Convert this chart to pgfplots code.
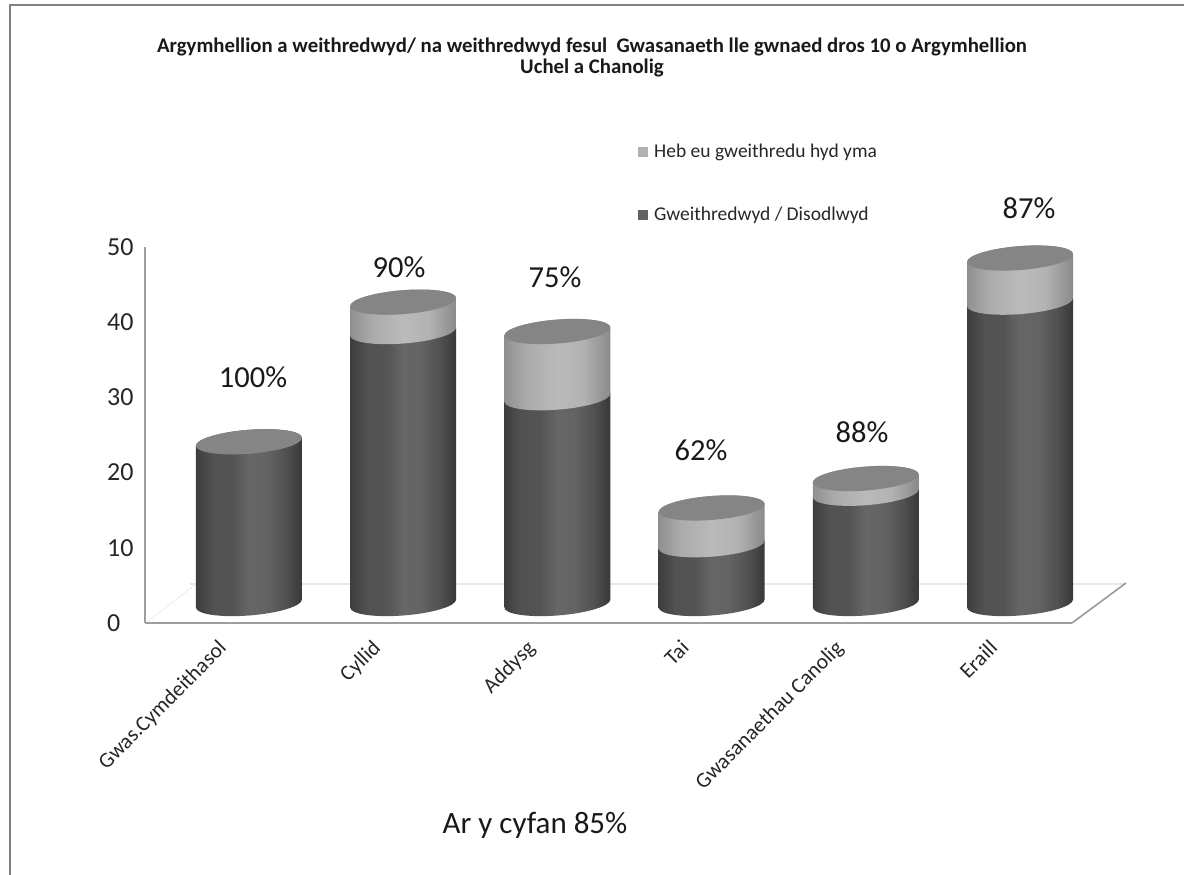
\documentclass[border=0pt]{standalone}
\usepackage{pgfplots}
\pgfplotsset{compat=1.18}
\usepackage{pgfplotstable}
\usepackage{fontspec}
\setmainfont{Carlito}
\pgfdeclarehorizontalshading{cyldark}{100bp}{
  color(0bp)=(black!76); color(25bp)=(black!76); color(33bp)=(black!68);
  color(42bp)=(black!67); color(50bp)=(black!60); color(58bp)=(black!61);
  color(67bp)=(black!68); color(75bp)=(black!78); color(100bp)=(black!78)}
\pgfdeclarehorizontalshading{cyllight}{100bp}{
  color(0bp)=(black!44); color(25bp)=(black!44); color(35bp)=(black!33);
  color(50bp)=(black!27); color(62bp)=(black!30); color(75bp)=(black!46); color(100bp)=(black!46)}
% silhouette of a tilted cylinder segment, of height \hval in data units (7.35pt per unit)
\newcommand{\cylsilhouette}{
    (-53pt,-3.975pt) .. controls (-53pt,-10.605pt) and (-29.27pt,-14.195pt) .. (0pt,-12pt)
    .. controls (29.27pt,-9.805pt) and (53pt,-2.655pt) .. (53pt,3.975pt)
    -- (53pt,{\hval*7.35pt+3.975pt})
    .. controls (53pt,{\hval*7.35pt+10.605pt}) and (29.27pt,{\hval*7.35pt+14.195pt}) .. (0pt,{\hval*7.35pt+12pt})
    .. controls (-29.27pt,{\hval*7.35pt+9.805pt}) and (-53pt,{\hval*7.35pt+2.655pt}) .. (-53pt,{\hval*7.35pt-3.975pt})
    -- cycle}
\pgfdeclareplotmark{cyldarkseg}{\path[draw=none,shading=cyldark] \cylsilhouette;}
\pgfdeclareplotmark{cyllightseg}{\path[draw=none,shading=cyllight] \cylsilhouette;}
\pgfdeclareplotmark{cylcap}{%
  \path[draw=none,fill=black!48]
    (-53pt,-3.975pt) .. controls (-53pt,-10.605pt) and (-29.27pt,-14.195pt) .. (0pt,-12pt)
    .. controls (29.27pt,-9.805pt) and (53pt,-2.655pt) .. (53pt,3.975pt)
    .. controls (53pt,10.605pt) and (29.27pt,14.195pt) .. (0pt,12pt)
    .. controls (-29.27pt,9.805pt) and (-53pt,2.655pt) .. (-53pt,-3.975pt) -- cycle;}
\pgfplotstableread{
x done rest total
0 22 0 22
1 37 4 41
2 28 9 37
3 8 5 13
4 15 2 17
5 41 6 47
}\datatable
\begin{document}
\begin{tikzpicture}[x=1pt,y=1pt]
\useasboundingbox (0,0) rectangle (1184,875);
\begin{scope}[shift={(0,875)},y=-1pt]
  % frame
  \draw[black!50,line width=1.8pt] (10,875) -- (10,5) -- (1184,5);
  % floor
  \draw[black!9,line width=1.2pt] (190,584) -- (1126,584);
  \draw[black!20,densely dotted,line width=0.6pt] (147,622) -- (196,584);
  \draw[black!40,line width=1.6pt] (1072,623) -- (1126,583);
\end{scope}
\begin{axis}[
  at={(145pt,252pt)},anchor=south west,scale only axis,width=927pt,height=376pt,
  xmin=-0.674,xmax=5.337,ymin=0,ymax=50,
  axis x line=bottom,axis y line=left,
  axis line style={-,black!38,line width=1.8pt},
  xtick={0,1,2,3,4,5},
  xticklabels={Gwas.Cymdeithasol,Cyllid,Addysg,Tai,Gwasanaethau Canolig,Eraill},
  ytick={0,10,20,30,40,50},
  tick style={draw=none},major tick length=0pt,
  /pgf/number format/assume math mode=true,
  xticklabel style={font=\fontsize{21.5}{24}\selectfont,color=black!85,rotate=45,anchor=north east,xshift=-33.7pt,yshift=11.6pt,inner sep=0pt},
  yticklabel style={font=\fontsize{26}{28}\selectfont,color=black!85,anchor=west,xshift=-38pt,inner sep=0pt},
]
\end{axis}
\begin{axis}[
  at={(145pt,252pt)},anchor=south west,scale only axis,width=927pt,height=376pt,
  xmin=-0.674,xmax=5.337,ymin=-2.653,ymax=48.503,
  hide axis,clip=false,
  scatter/@pre marker code/.code={},scatter/@post marker code/.code={},
]
\addplot[ybar,bar width=90pt,bar shift=0pt,draw=none,shading=cyldark] table[x=x,y=done]{\datatable};
\addplot[scatter,only marks,mark=cyldarkseg,
  visualization depends on={\thisrow{done}\as\hval}] table[x=x,y expr=0]{\datatable};
\addplot[scatter,only marks,mark=cyllightseg,skip coords between index={0}{1},
  visualization depends on={\thisrow{rest}\as\hval}] table[x=x,y=done]{\datatable};
\addplot[scatter,only marks,mark=cylcap] table[x=x,y=total]{\datatable};
\end{axis}
\begin{scope}[shift={(0,875)},y=-1pt]
  % title
  \node[font=\bfseries\fontsize{20.8}{24}\selectfont,color=black!90,inner sep=0pt] at (592,47) {Argymhellion a weithredwyd/ na weithredwyd fesul\ \ Gwasanaeth lle gwnaed dros 10 o Argymhellion};
  \node[font=\bfseries\fontsize{20.8}{24}\selectfont,color=black!90,inner sep=0pt] at (592,68) {Uchel a Chanolig};
  % legend
  \fill[black!30] (638,147) rectangle (648,157);
  \node[anchor=west,font=\fontsize{19.5}{22}\selectfont,color=black!85,inner sep=0pt] at (654,152) {Heb eu gweithredu hyd yma};
  \fill[black!62] (638,210) rectangle (648,220);
  \node[anchor=west,font=\fontsize{19.5}{22}\selectfont,color=black!85,inner sep=0pt] at (654,215) {Gweithredwyd / Disodlwyd};
  % percentages
  \foreach \x/\y/\t in {253/377/100,399/267/90,555/277/75,701/450/62,862/432/88,1029/208/87}
    \node[font=\fontsize{30.5}{34}\selectfont,color=black!90,inner sep=0pt] at (\x,\y) {\t\%};
  \node[font=\fontsize{31}{34}\selectfont,color=black!90,inner sep=0pt] at (535,825) {Ar y cyfan 85\%};
\end{scope}
\end{tikzpicture}
\end{document}
